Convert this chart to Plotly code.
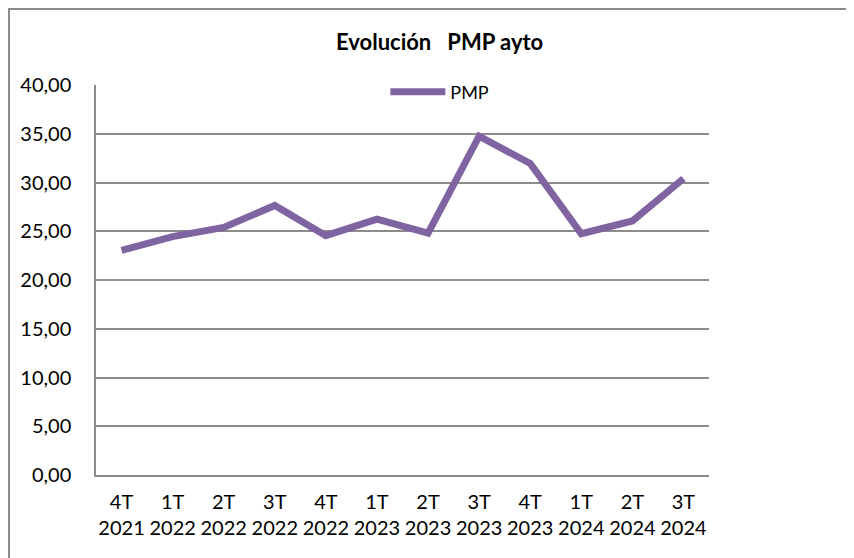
import plotly.graph_objects as go

categories = ["4T<br>2021", "1T<br>2022", "2T<br>2022", "3T<br>2022", "4T<br>2022", "1T<br>2023",
              "2T<br>2023", "3T<br>2023", "4T<br>2023", "1T<br>2024", "2T<br>2024", "3T<br>2024"]
pmp = [23.05, 24.45, 25.4, 27.65, 24.55, 26.25, 24.8, 34.75, 31.95, 24.75, 26.05, 30.4]
y_ticks = [0, 5, 10, 15, 20, 25, 30, 35, 40]

FONT = "Lato, Calibri, Arial, sans-serif"
GRID = "#8c8c8c"

# page body has an 8px margin; plot area sits at viewport x 96..709, y 85..475
L, T, PW, PH = 88, 77, 613, 390
W, H = 854, 558

fig = go.Figure()
fig.add_trace(go.Scatter(
    x=categories, y=pmp, mode="lines", name="PMP",
    line=dict(color="#8064a2", width=7),
))

bx0 = (1 - L) / PW
by1 = 1 + (T - 1) / PH
fig.update_layout(
    width=W, height=H,
    margin=dict(l=L, r=W - L - PW, t=T, b=H - T - PH, autoexpand=False),
    paper_bgcolor="white", plot_bgcolor="white",
    separators=",.",
    font=dict(family=FONT, size=19, color="black"),
    showlegend=True,
    legend=dict(x=0.472, y=0.982, xanchor="left", yanchor="middle",
                bgcolor="rgba(0,0,0,0)", font=dict(size=18), itemwidth=55),
    xaxis=dict(type="category", range=[-0.5, len(categories) - 0.5], showgrid=False,
               showline=True, linecolor=GRID, linewidth=1.5, automargin=False,
               ticks="", tickfont=dict(size=20), tickangle=0, fixedrange=True,
               ticklabelstandoff=8),
    yaxis=dict(range=[0, 40], tickvals=y_ticks, tickformat=".2f", showgrid=True,
               gridcolor=GRID, gridwidth=1.5, showline=True, linecolor=GRID, linewidth=1.5,
               ticks="", zeroline=False, ticklabelstandoff=19, automargin=False,
               tickfont=dict(size=20)),
    annotations=[dict(
        text="<b>Evolución\u00a0\u00a0\u00a0PMP ayto</b>", xref="paper", yref="paper",
        x=(431 - L) / PW, y=1.0 + (T - 34) / PH, xanchor="center", yanchor="middle",
        showarrow=False, font=dict(size=22, family=FONT),
    )],
    shapes=[dict(type="path", xref="paper", yref="paper",
                 path=f"M {bx0},-0.5 L {bx0},{by1} L 1.6,{by1}",
                 line=dict(color="#8c8c8c", width=2), layer="below")],
)

fig.write_html("out.html")
